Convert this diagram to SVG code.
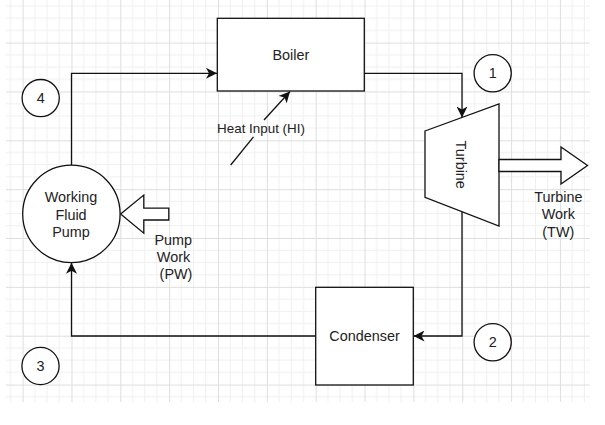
<svg xmlns="http://www.w3.org/2000/svg" width="605" height="425" viewBox="0 0 605 425">
  <defs>
    <pattern id="grid" patternUnits="userSpaceOnUse" x="22.6" y="42.6" width="48.85" height="48.85">
      <path d="M12.21,0 V48.85 M24.42,0 V48.85 M36.64,0 V48.85 M0,12.21 H48.85 M0,24.42 H48.85 M0,36.64 H48.85" stroke="#f0f0f0" stroke-width="1" fill="none"/>
      <path d="M0.5,0 V48.85 M0,0.5 H48.85" stroke="#dedede" stroke-width="1" fill="none"/>
    </pattern>
    <marker id="arrow" markerUnits="userSpaceOnUse" markerWidth="12" markerHeight="11" refX="11" refY="5.5" orient="auto">
      <path d="M0,0 L11,5.5 L0,11 L3,5.5 Z" fill="#111"/>
    </marker>
    <style>
      .shape { fill: #ffffff; stroke: #111; stroke-width: 1.3; }
      .edge { fill: none; stroke: #111; stroke-width: 1.3; }
      .t { font-family: "Liberation Sans", Arial, sans-serif; font-size: 14.4px; fill: #222; text-anchor: middle; dominant-baseline: central; }
      .lbl { font-size: 13.4px; }
    </style>
  </defs>
  <rect width="605" height="425" fill="#ffffff"/>
  <rect x="6" y="0" width="584" height="402" fill="url(#grid)"/>

  <g id="connectors">
    <path class="edge" d="M71.5,165.5 V73.3 H217" marker-end="url(#arrow)"/>
    <path class="edge" d="M364,73.3 H462 V117.5" marker-end="url(#arrow)"/>
    <path class="edge" d="M462,211.5 V336 H413.5" marker-end="url(#arrow)"/>
    <path class="edge" d="M316,336 H71.5 V262.8" marker-end="url(#arrow)"/>
    <g id="heat-input">
      <path class="edge" d="M230.7,165 L253.5,136.8"/>
      <path class="edge" d="M264,120 L290,91.5" marker-end="url(#arrow)"/>
      <text class="t lbl" x="261" y="128.3">Heat Input (HI)</text>
    </g>
  </g>

  <g id="boiler">
    <rect class="shape" x="217.3" y="18.3" width="147" height="72.7"/>
    <text class="t" x="290.8" y="54.7">Boiler</text>
  </g>

  <g id="turbine">
    <polygon class="shape" points="425,131 499,104 499,226 425,197.3"/>
    <text class="t" transform="translate(461,164.7) rotate(90)" x="0" y="0">Turbine</text>
  </g>

  <g id="turbine-work">
    <polygon class="shape" points="499,159.5 561,159.5 561,147 587.5,165.5 561,184 561,171.5 499,171.5"/>
    <text class="t" x="558.3" y="196.7">Turbine</text>
    <text class="t" x="558.3" y="214.3">Work</text>
    <text class="t" x="558.3" y="232.3">(TW)</text>
  </g>

  <g id="condenser">
    <rect class="shape" x="315.7" y="287.3" width="97.6" height="97.7"/>
    <text class="t" x="364.5" y="336">Condenser</text>
  </g>

  <g id="pump">
    <circle class="shape" cx="71.4" cy="213.9" r="48.7"/>
    <text class="t" x="71" y="196.7">Working</text>
    <text class="t" x="71" y="215">Fluid</text>
    <text class="t" x="71" y="232.3">Pump</text>
  </g>

  <g id="pump-work">
    <polygon class="shape" points="168.8,208.2 143.8,208.2 143.8,195 120.6,214 143.8,233.2 143.8,220 168.8,220"/>
    <text class="t" x="173.3" y="240">Pump</text>
    <text class="t" x="173.5" y="256.8">Work</text>
    <text class="t" x="176" y="273.5">(PW)</text>
  </g>

  <g id="state-1">
    <circle class="shape" cx="492.7" cy="73.3" r="18.6"/>
    <text class="t" x="492.7" y="73.3">1</text>
  </g>
  <g id="state-2">
    <circle class="shape" cx="492.7" cy="342.3" r="18.6"/>
    <text class="t" x="492.7" y="342.3">2</text>
  </g>
  <g id="state-3">
    <circle class="shape" cx="40.5" cy="366" r="18.6"/>
    <text class="t" x="40.5" y="366">3</text>
  </g>
  <g id="state-4">
    <circle class="shape" cx="40.7" cy="98.1" r="18.6"/>
    <text class="t" x="40.7" y="98.1">4</text>
  </g>
</svg>
